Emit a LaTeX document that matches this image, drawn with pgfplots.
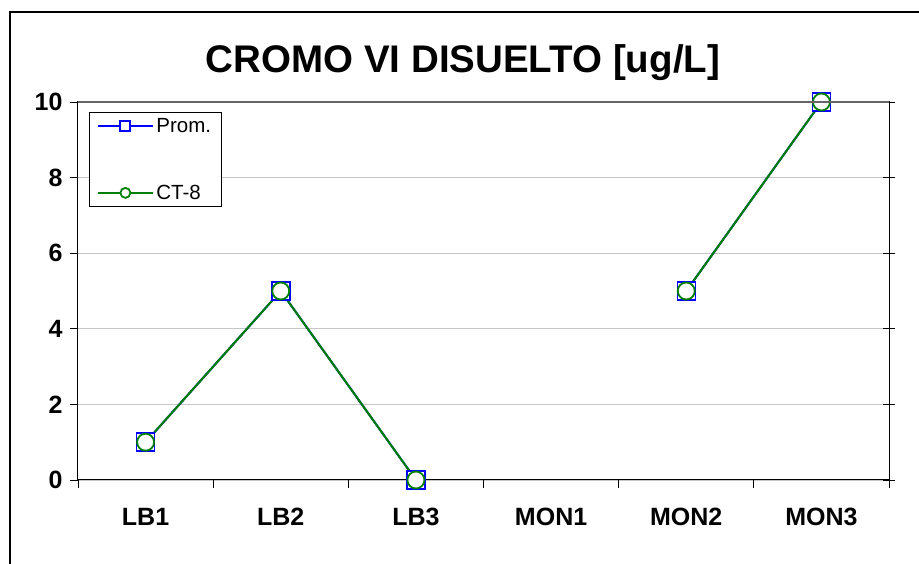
\documentclass[border=0pt]{standalone}
\usepackage{fontspec}
\setmainfont{Liberation Sans}
\usepackage{pgfplots}
\pgfplotsset{compat=1.18}
\definecolor{ptblue}{RGB}{0,0,255}
\definecolor{ctgreen}{RGB}{0,128,0}
\begin{document}
\begin{tikzpicture}[x=1bp,y=1bp]
\useasboundingbox (-78,-84) rectangle (841,480);
\draw[line width=2bp] (-68,-90) -- (-68,468) -- (850,468);
\node[font=\fontsize{38.5bp}{42bp}\selectfont\bfseries] at (385,417) {CROMO VI DISUELTO [ug/L]};
\begin{axis}[
    at={(0,0)}, anchor=south west,
    scale only axis, width=811bp, height=378bp,
    xmin=0.5, xmax=6.5, ymin=0, ymax=10,
    xtick={1,2,3,4,5,6},
    xticklabels={LB1,LB2,LB3,MON1,MON2,MON3},
    major x tick style={draw=none},
    minor xtick={0.5,1.5,2.5,3.5,4.5,5.5,6.5},
    x tick style={black, line width=0.8bp},
    xtick align=outside, ytick align=outside,
    tick pos=left,
    major tick length=8bp, minor tick length=8bp,
    ytick={0,2,4,6,8,10},
    /pgf/number format/assume math mode=true,
    ymajorgrids, grid style={gray!45, line width=0.8bp},
    axis line style={black, line width=1bp},
    y tick style={black, line width=0.8bp},
    ticklabel style={font=\fontsize{25bp}{28bp}\selectfont\bfseries},
    yticklabel style={xshift=-4bp},
    xticklabel style={yshift=-17bp},
    legend style={at={(11bp,368bp)}, anchor=north west,
      draw=black, line width=0.8bp, inner xsep=8bp, inner ysep=4bp,
      row sep=47bp,
      font=\fontsize{20.5bp}{23bp}\selectfont},
    legend cell align=left,
    legend image code/.code={
      \draw[#1, line width=2bp, mark repeat=2, mark phase=2, mark size=5bp,
        mark options={fill=white, line width=1.8bp}]
        plot coordinates {(0bp,0bp) (27bp,0bp) (55bp,0bp)};},
    unbounded coords=jump,
]
\addplot[ptblue, line width=2bp, mark=square*, mark size=9bp,
  mark options={fill=white, line width=1.5bp}]
  coordinates {(1,1) (2,5) (3,0) (4,nan) (5,5) (6,10)};
\addlegendentry{Prom.}
\addplot[ctgreen, line width=2bp, mark=*, mark size=8.5bp,
  mark options={fill=white, line width=1.8bp}]
  coordinates {(1,1) (2,5) (3,0) (4,nan) (5,5) (6,10)};
\addlegendentry{CT-8}
\end{axis}
\begin{axis}[
    at={(0,0)}, anchor=south west,
    scale only axis, width=811bp, height=378bp,
    xmin=0.5, xmax=6.5, ymin=0, ymax=10,
    axis x line=none, axis y line*=right,
    ytick={0,2,4,6,8,10}, yticklabels={},
    ytick align=center, major tick length=12bp,
    axis line style={black, line width=1bp},
    y tick style={black, line width=0.8bp},
]
\end{axis}
\draw[gray!80!black, line width=1.2bp] (0,378) -- (811,378);
\end{tikzpicture}
\end{document}
